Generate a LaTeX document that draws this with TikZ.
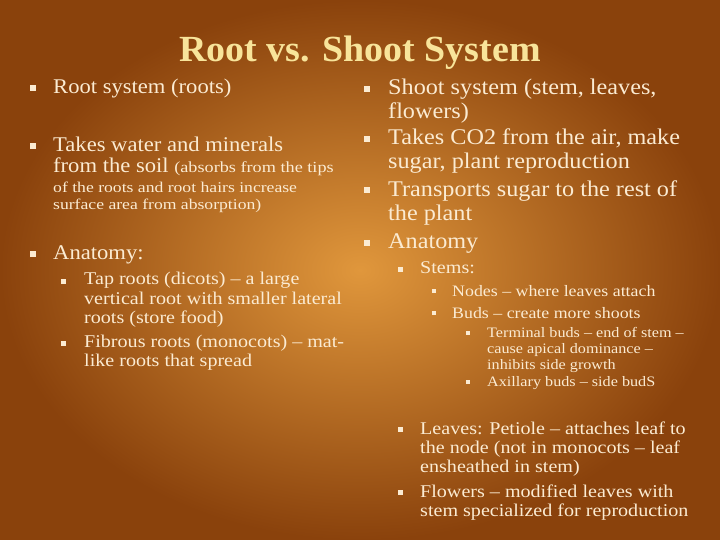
\documentclass[tikz,border=0pt]{standalone}
\usepackage{fontspec}
\setmainfont{Liberation Serif}
\newfontfamily\fA[FakeStretch=1.08]{Liberation Serif}
\newfontfamily\fS[FakeStretch=1.12]{Liberation Serif}
\newfontfamily\fT[FakeStretch=1.18]{Liberation Serif}
\newfontfamily\fTi[FakeStretch=1.03]{Liberation Serif}
\definecolor{bgin}{HTML}{E0973C}
\definecolor{bgout}{HTML}{8A420C}
\definecolor{txt}{HTML}{FBEBD2}
\definecolor{ttl}{HTML}{F8E49A}
\begin{document}
\begin{tikzpicture}[x=1bp,y=-1bp,
  L/.style={anchor=base west,inner sep=0pt,text=txt,font=\fA\fontsize{21}{21}\selectfont},
  R/.style={anchor=base west,inner sep=0pt,text=txt,font=\fA\fontsize{22.5}{22.5}\selectfont},
  S/.style={anchor=base west,inner sep=0pt,text=txt,font=\fS\fontsize{18}{18}\selectfont},
  T/.style={anchor=base west,inner sep=0pt,text=txt,font=\fT\fontsize{15}{15}\selectfont},
  U/.style={anchor=base west,inner sep=0pt,text=txt,font=\fS\fontsize{16}{16}\selectfont},
  V/.style={anchor=base west,inner sep=0pt,text=txt,font=\fS\fontsize{14.5}{14.5}\selectfont},
  b/.style={fill=txt,minimum size=6bp,inner sep=0pt},
  bs/.style={fill=txt,minimum size=5bp,inner sep=0pt},
  bx/.style={fill=txt,minimum size=4bp,inner sep=0pt}]
\useasboundingbox (0,0) rectangle (720,540);
\shade[inner color=bgin,outer color=bgout] (0,0) rectangle (720,540);
\node[anchor=base,text=ttl,font=\fTi\bfseries\fontsize{37}{37}\selectfont] (title) at (360,62) {Root vs. Shoot System};
% left
\node[b] (b1) at (33,88) {}; \node[L] (l1) at (53,94) {Root system (roots)};
\node[b] (b2) at (33,146) {}; \node[L] (l2) at (53,152) {Takes water and minerals};
\node[L] (l3) at (53,173) {from the soil \fT\fontsize{15.5}{15.5}\selectfont(absorbs from the tips};
\node[T] (l4) at (53,193) {of the roots and root hairs increase};
\node[T] (l5) at (53,210) {surface area from absorption)};
\node[b] (b3) at (33,254) {}; \node[L] (l6) at (53,260) {Anatomy:};
\node[bs] (b4) at (63,281) {}; \node[S] (l7) at (84,285) {Tap roots (dicots) – a large};
\node[S] (l8) at (84,304) {vertical root with smaller lateral};
\node[S] (l9) at (84,323) {roots (store food)};
\node[bs] (b5) at (63,343) {}; \node[S] (l10) at (84,347) {Fibrous roots (monocots) – mat-};
\node[S] (l11) at (84,366) {like roots that spread};
% right
\node[b] (r0) at (367,89) {}; \node[R] (r1) at (388,95) {Shoot system (stem, leaves,};
\node[R] (r2) at (388,119) {flowers)};
\node[b] (rb2) at (367,139) {}; \node[R] (r3) at (388,145) {Takes CO2 from the air, make};
\node[R] (r4) at (388,169) {sugar, plant reproduction};
\node[b] (rb3) at (367,190) {}; \node[R] (r5) at (388,197) {Transports sugar to the rest of};
\node[R] (r6) at (388,221) {the plant};
\node[b] (rb4) at (367,243) {}; \node[R] (r7) at (388,249) {Anatomy};
\node[bs] (rb5) at (400,269) {}; \node[S] (r8) at (420,274) {Stems:};
\node[bx] (rb6) at (434,291) {}; \node[U] (r9) at (452,296) {Nodes – where leaves attach};
\node[bx] (rb7) at (434,313) {}; \node[U] (r10) at (452,318) {Buds – create more shoots};
\node[bx] (rb8) at (468,333) {}; \node[V] (r11) at (487,337) {Terminal buds – end of stem –};
\node[V] (r12) at (487,353) {cause apical dominance –};
\node[V] (r13) at (487,369) {inhibits side growth};
\node[bx] (rb9) at (468,382) {}; \node[V] (r14) at (487,386) {Axillary buds – side budS};
\node[bs] (rb10) at (400,429) {}; \node[S] (r15) at (420,434) {Leaves: Petiole – attaches leaf to};
\node[S] (r16) at (420,453) {the node (not in monocots – leaf};
\node[S] (r17) at (420,472) {ensheathed in stem)};
\node[bs] (rb11) at (400,492) {}; \node[S] (r18) at (420,497) {Flowers – modified leaves with};
\node[S] (r19) at (420,516) {stem specialized for reproduction};
\end{tikzpicture}
\end{document}
